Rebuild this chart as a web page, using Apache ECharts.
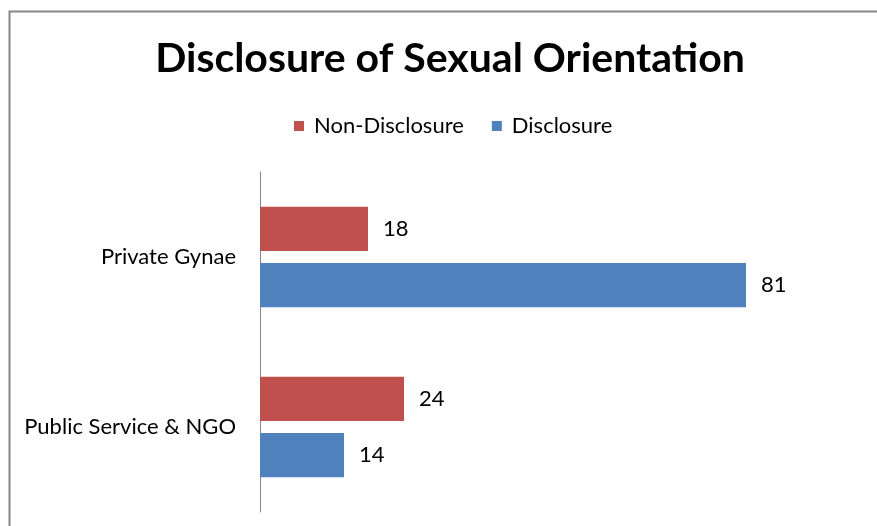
<!DOCTYPE html>
<html><head><meta charset="utf-8">
<script src="https://cdn.jsdelivr.net/npm/echarts@6/dist/echarts.min.js"></script>
<style>html,body{margin:0;padding:0;background:#fff}#c{width:877px;height:526px}</style>
</head><body><div id="c"></div>
<script>
const categories = ['Private Gynae', 'Public Service & NGO'];
const nonDisclosure = [18, 24];
const disclosure = [81, 14];
const seriesNames = ['Non-Disclosure', 'Disclosure'];

const chart = echarts.init(document.getElementById('c'));
const font = 'Lato, "Open Sans", sans-serif';
chart.setOption({
  animation: false,
  backgroundColor: '#fff',
  graphic: [{type:'rect', shape:{x:9.5,y:11.5,width:900,height:600}, style:{fill:'none', stroke:'#868686', lineWidth:2}, silent:true}],
  title: {text:'Disclosure of Sexual Orientation', left:445, top:33, textAlign:'center',
    textStyle:{fontFamily:font, fontWeight:'bold', fontSize:41, color:'#000'}},
  legend: {data: seriesNames, left:289, top:110, itemWidth:10, itemHeight:10, itemGap:28,
    icon:'rect', textStyle:{fontFamily:font, fontSize:22, color:'#000', padding:[0,0,0,5]}},
  grid: {left:260, right:77, top:172, bottom:14},
  xAxis: {type:'value', min:0, max:90, show:false},
  yAxis: {type:'category', data:categories, inverse:true,
    axisLine:{show:true, lineStyle:{color:'#868686', width:1}}, axisTick:{show:false},
    axisLabel:{fontFamily:font, fontSize:22, color:'#000', margin:24}},
  series: [
    {name:seriesNames[0], type:'bar', data:nonDisclosure, barGap:'27%', barCategoryGap:'41%',
     itemStyle:{color:'#C0504D'}, label:{show:true, position:'right', distance:15, fontFamily:font, fontSize:22, color:'#000'}},
    {name:seriesNames[1], type:'bar', data:disclosure,
     itemStyle:{color:'#4F81BD'}, label:{show:true, position:'right', distance:15, fontFamily:font, fontSize:22, color:'#000'}}
  ]
});
</script></body></html>
